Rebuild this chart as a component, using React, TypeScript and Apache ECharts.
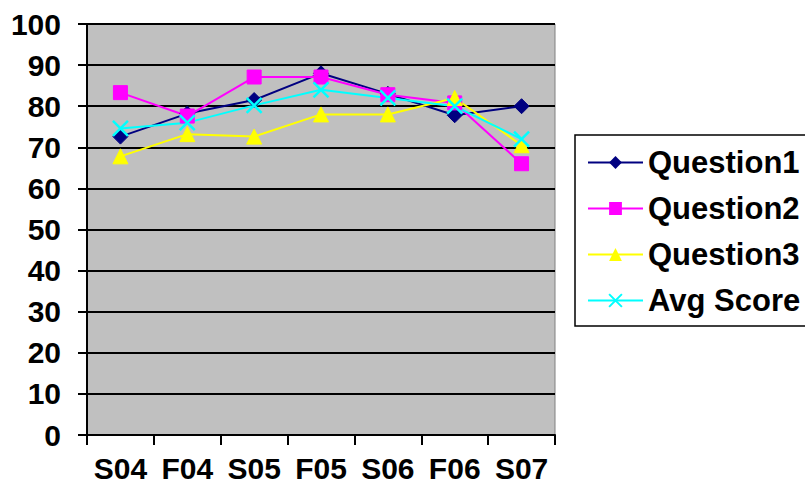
import React, { useEffect, useRef } from "react";
import * as echarts from "echarts";

const categories = ["S04", "F04", "S05", "F05", "S06", "F06", "S07"];
const question1 = [72.6, 78.2, 81.5, 88, 83, 77.8, 80];
const question2 = [83.3, 77.6, 87.1, 87.1, 82.8, 80.8, 66];
const question3 = [67.8, 73.2, 72.6, 78, 78, 82, 70.5];
const avgScore = [74.6, 76, 80.2, 84, 82, 80, 72];
const yTicks = { min: 0, max: 100, interval: 10 };

const FONT = "Liberation Sans, Arial, sans-serif";

export default function App() {
  const ref = useRef<HTMLDivElement>(null);
  useEffect(() => {
    const chart = echarts.init(ref.current!, null, { renderer: "svg" });
    const mk = (name: string, data: number[], color: string, symbol: string, size: number) => ({
      name,
      type: "line",
      data,
      symbol,
      symbolSize: size,
      lineStyle: { color, width: 2 },
      itemStyle: { color, borderColor: color },
      emphasis: { disabled: true },
    });
    chart.setOption({
      animation: false,
      backgroundColor: "#ffffff",
      grid: {
        left: 87,
        top: 24,
        width: 468,
        height: 411,
        show: true,
        backgroundColor: "#c0c0c0",
        borderColor: "#808080",
        borderWidth: 1,
      },
      xAxis: {
        type: "category",
        data: categories,
        boundaryGap: true,
        axisLine: { lineStyle: { color: "#000", width: 2 } },
        axisTick: { show: true, interval: 0, length: 10, lineStyle: { color: "#000", width: 2 } },
        axisLabel: {
          interval: 0,
          hideOverlap: false,
          color: "#000",
          fontFamily: FONT,
          fontWeight: "bold",
          fontSize: 30,
          margin: 18,
        },
      },
      yAxis: {
        type: "value",
        min: yTicks.min,
        max: yTicks.max,
        interval: yTicks.interval,
        axisLine: { show: true, lineStyle: { color: "#000", width: 2 } },
        axisTick: { show: true, length: 9, lineStyle: { color: "#000", width: 2 } },
        splitLine: { show: true, lineStyle: { color: "#000", width: 2 } },
        axisLabel: { color: "#000", fontFamily: FONT, fontWeight: "bold", fontSize: 30, margin: 26 },
      },
      legend: {
        orient: "vertical",
        left: 575,
        top: 135,
        itemWidth: 55,
        itemHeight: 16,
        itemGap: 15,
        padding: [12, 20, 10, 12],
        borderColor: "#000",
        borderWidth: 1.5,
        backgroundColor: "#fff",
        textStyle: { color: "#000", fontFamily: FONT, fontWeight: "bold", fontSize: 31 },
        data: ["Question1", "Question2", "Question3", "Avg Score"],
      },
      series: [
        mk("Question1", question1, "#000080", "diamond", 15),
        mk("Question2", question2, "#ff00ff", "rect", 14),
        mk("Question3", question3, "#ffff00", "triangle", 15),
        {
          ...mk("Avg Score", avgScore, "#00ffff", "path://M0,0 L10,10 M10,0 L0,10", 15),
          itemStyle: { color: "none", borderColor: "#00ffff", borderWidth: 2.5 },
        },
      ],
    });
    return () => chart.dispose();
  }, []);
  return <div ref={ref} style={{ width: 805, height: 496, position: "absolute", left: 0, top: 0 }} />;
}
